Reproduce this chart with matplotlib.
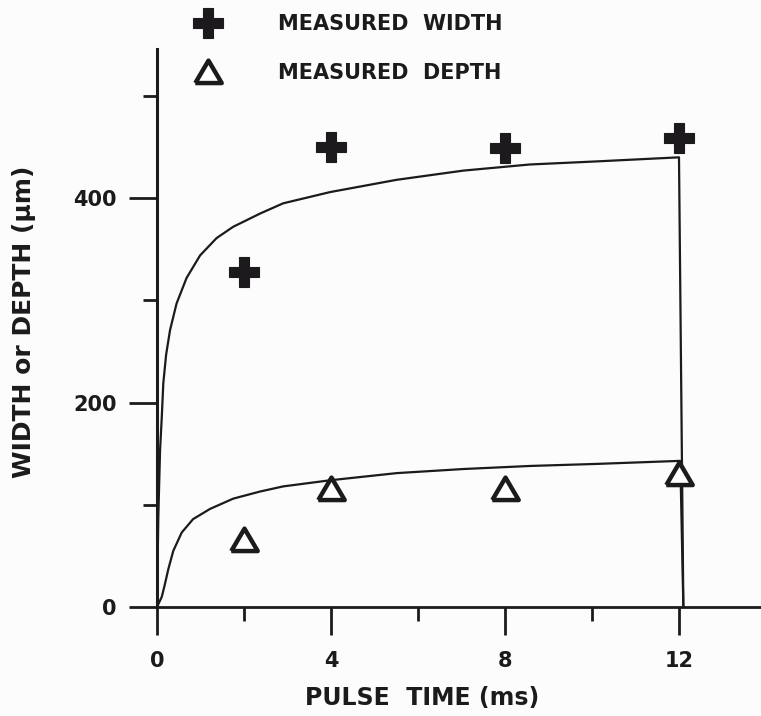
import matplotlib
matplotlib.use('Agg')
import matplotlib.pyplot as plt

# measured points
pulse_ms = [2, 4, 8, 12]
meas_width = [328, 450, 449, 459]
meas_depth = [66, 115, 115, 130]

# model curves (the curve drops back to 0 just after 12 ms)
width_t = [0, 0.03, 0.07, 0.11, 0.145, 0.21, 0.30, 0.45, 0.68, 0.99, 1.37, 1.75, 2.37,
           2.9, 3.98, 5.51, 7.04, 8.57, 10.1, 12.0, 12.1]
width_y = [0, 88, 153, 186, 219, 247, 271, 297, 322, 344, 361, 372, 385,
           395, 406, 418, 427, 433, 436, 440, 0]
depth_t = [0, 0.11, 0.18, 0.26, 0.375, 0.57, 0.83, 1.22, 1.75, 2.37, 2.9, 3.98,
           5.51, 7.04, 8.57, 10.1, 12.03, 12.1]
depth_y = [0, 10, 22, 37, 55, 73, 86, 96, 106, 113, 118, 124,
           131, 135, 138, 140, 143, 0]

x_major = [0, 4, 8, 12]
x_minor = [2, 6, 10]
y_major = [0, 200, 400]
y_minor = [100, 300, 500]

ink = '#1c1a1c'
bg = '#fbfcfb'
plt.rcParams['font.family'] = 'DejaVu Sans'
plt.rcParams['font.weight'] = 'bold'

fig = plt.figure(figsize=(7.61, 7.16), dpi=100, facecolor=bg)
ax = fig.add_axes([157 / 761, 109 / 716, 604 / 761, 558 / 716])
ax.set_facecolor(bg)

ax.plot(width_t, width_y, color=ink, lw=1.6, zorder=2)
ax.plot(depth_t, depth_y, color=ink, lw=1.6, zorder=2)

tri = [(-1, -0.8), (1, -0.8), (0, 0.9), (-1, -0.8)]
ax.plot(pulse_ms, meas_width, ls='none', marker='P', ms=22, color=ink, mec=ink,
        mew=0.8, zorder=4, clip_on=False, label='MEASURED  WIDTH')
ax.plot(pulse_ms, meas_depth, ls='none', marker=tri, ms=19, mfc='white', mec=ink,
        mew=3.2, zorder=4, clip_on=False, label='MEASURED  DEPTH')

ax.set_xlim(0, 604 / 43.5)
ax.set_ylim(0, 546)

ax.spines['top'].set_visible(False)
ax.spines['right'].set_visible(False)
ax.spines['left'].set_linewidth(2.2)
ax.spines['bottom'].set_linewidth(2.0)
ax.spines['left'].set_color(ink)
ax.spines['bottom'].set_color(ink)

ax.set_xticks(x_major)
ax.set_xticks(x_minor, minor=True)
ax.set_yticks(y_major)
ax.set_yticks(y_minor, minor=True)
ax.tick_params(which='major', length=20, width=2.0, color=ink, direction='out',
               labelsize=15)
ax.tick_params(which='minor', length=10, width=2.0, color=ink, direction='out')
ax.tick_params(axis='x', which='major', pad=12)
ax.tick_params(axis='y', which='major', pad=9)

ax.set_xlabel('PULSE  TIME (ms)', fontsize=17, fontweight='bold', color=ink)
ax.xaxis.set_label_coords((422 - 157) / 604, -(686 - 607) / 558)
ax.set_ylabel('WIDTH or DEPTH (\u00b5m)', fontsize=18, fontweight='bold', color=ink)
ax.yaxis.set_label_coords(-(157 - 36) / 604, (607 - 322) / 558)
for lbl in ax.get_xticklabels() + ax.get_yticklabels():
    lbl.set_color(ink)

leg = ax.legend(loc='upper left', bbox_to_anchor=(198 / 761, 1 - 14 / 716),
                bbox_transform=fig.transFigure, frameon=False, numpoints=1,
                fontsize=15, handlelength=1.0, handletextpad=2.85,
                labelspacing=1.39, borderpad=0, borderaxespad=0)
for t in leg.get_texts():
    t.set_color(ink)

fig.savefig('out.png', dpi=100, facecolor=bg)
